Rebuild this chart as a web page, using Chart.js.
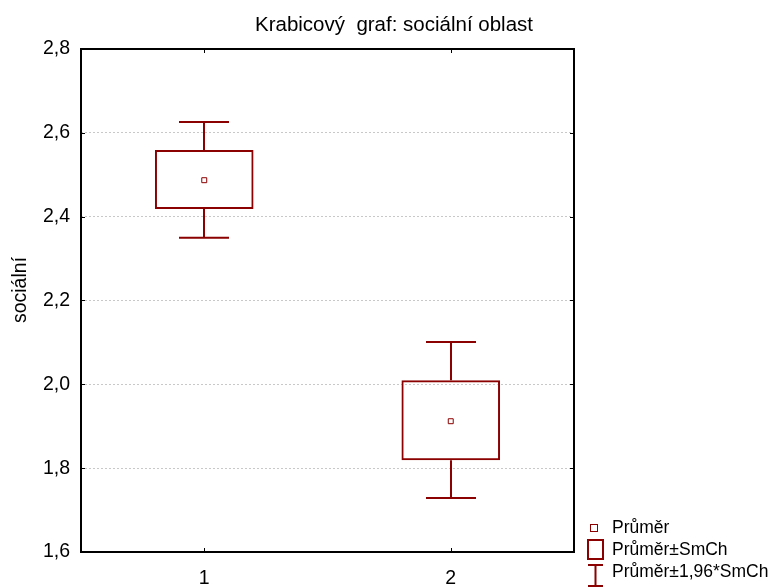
<!DOCTYPE html>
<html>
<head>
<meta charset="utf-8">
<script src="https://cdn.jsdelivr.net/npm/chart.js@4/dist/chart.umd.min.js"></script>
<style>
  html, body { margin: 0; padding: 0; background: #fff; }
  #wrap { width: 776px; height: 587px; }
</style>
</head>
<body>
<div id="wrap"><canvas id="box-chart" width="776" height="587"></canvas></div>
<script>
var groups = ['1', '2'];
var means = [2.487, 1.912];
var seLow = [2.418, 1.819];
var seHigh = [2.559, 2.010];
var ciLow = [2.350, 1.729];
var ciHigh = [2.626, 2.101];
var yTicks = [1.6, 1.8, 2.0, 2.2, 2.4, 2.6, 2.8];

var red = '#8b0000';
var font = 'Liberation Sans, Arial, sans-serif';

function fmt(v) {
  return v.toFixed(1).replace('.', ',');
}

// whiskers, frame, title and legend
var extras = {
  id: 'extras',
  afterDatasetsDraw: function (chart) {
    var ctx = chart.ctx;
    var x = chart.scales.x, y = chart.scales.y;
    var area = chart.chartArea;
    ctx.save();
    ctx.strokeStyle = red;
    ctx.lineWidth = 2;
    for (var i = 0; i < groups.length; i++) {
      var cx = Math.round(x.getPixelForValue(i));
      ctx.beginPath();
      ctx.moveTo(cx, y.getPixelForValue(seHigh[i]));
      ctx.lineTo(cx, y.getPixelForValue(ciHigh[i]));
      ctx.moveTo(cx - 25, y.getPixelForValue(ciHigh[i]));
      ctx.lineTo(cx + 25, y.getPixelForValue(ciHigh[i]));
      ctx.moveTo(cx, y.getPixelForValue(seLow[i]));
      ctx.lineTo(cx, y.getPixelForValue(ciLow[i]));
      ctx.moveTo(cx - 25, y.getPixelForValue(ciLow[i]));
      ctx.lineTo(cx + 25, y.getPixelForValue(ciLow[i]));
      ctx.stroke();
    }
    // frame
    ctx.strokeStyle = '#000';
    ctx.lineWidth = 2;
    ctx.strokeRect(area.left, area.top, area.right - area.left, area.bottom - area.top);
    ctx.beginPath();
    for (var j = 0; j < groups.length; j++) {
      var tx = Math.round(x.getPixelForValue(j)) + 0.5;
      ctx.moveTo(tx, area.top); ctx.lineTo(tx, area.top + 4);
      ctx.moveTo(tx, area.bottom); ctx.lineTo(tx, area.bottom - 4);
    }
    yTicks.forEach(function (v) {
      var ty = Math.round(y.getPixelForValue(v)) + 0.5;
      ctx.moveTo(area.left, ty); ctx.lineTo(area.left + 4, ty);
      ctx.moveTo(area.right, ty); ctx.lineTo(area.right - 4, ty);
    });
    ctx.lineWidth = 1;
    ctx.stroke();

    // title
    ctx.fillStyle = '#000';
    ctx.font = '20.5px ' + font;
    ctx.textAlign = 'center';
    ctx.textBaseline = 'alphabetic';
    ctx.fillText('Krabicový  graf: sociální oblast', 394, 31);

    // y axis title
    ctx.save();
    ctx.translate(26, 290);
    ctx.rotate(-Math.PI / 2);
    ctx.font = '19.5px ' + font;
    ctx.fillText('sociální', 0, 0);
    ctx.restore();

    // legend
    ctx.textAlign = 'left';
    ctx.font = '17.5px ' + font;
    ctx.strokeStyle = red;
    ctx.lineWidth = 1;
    ctx.strokeRect(590.5, 524.5, 7, 7);
    ctx.fillText('Průměr', 612, 533);
    ctx.lineWidth = 2;
    ctx.strokeRect(588, 540, 15, 19);
    ctx.fillText('Průměr±SmCh', 612, 555);
    ctx.beginPath();
    ctx.moveTo(588, 565); ctx.lineTo(603, 565);
    ctx.moveTo(595.5, 565); ctx.lineTo(595.5, 587);
    ctx.moveTo(588, 586); ctx.lineTo(603, 586);
    ctx.stroke();
    ctx.fillText('Průměr±1,96*SmCh', 612, 577);
    ctx.restore();
  }
};

var boxData = [];
for (var k = 0; k < groups.length; k++) {
  boxData.push([seLow[k], seHigh[k]]);
}

new Chart(document.getElementById('box-chart'), {
  type: 'bar',
  data: {
    labels: groups,
    datasets: [{
        type: 'scatter',
        label: 'Průměr',
        data: means.map(function (m, i) { return { x: i, y: m }; }),
        pointStyle: 'rect',
        pointRadius: 3.5,
        borderWidth: 1,
        borderColor: red,
        backgroundColor: '#fff'
      },
      {
        label: 'Průměr±SmCh',
        data: boxData,
        borderColor: red,
        borderWidth: 2,
        borderSkipped: false,
        backgroundColor: 'rgba(0,0,0,0)',
        barPercentage: 0.4,
        categoryPercentage: 1
      }
    ]
  },
  options: {
    responsive: false,
    animation: false,
    layout: { padding: { top: 49, right: 202, left: 0, bottom: 0 } },
    plugins: {
      legend: { display: false },
      title: { display: false },
      tooltip: { enabled: false }
    },
    scales: {
      x: {
        type: 'category',
        offset: true,
        grid: { display: false },
        border: { display: false },
        ticks: { color: '#000', font: { family: font, size: 19.5 }, padding: 7 },
        afterFit: function (s) { s.height = 35; }
      },
      y: {
        min: 1.6,
        max: 2.8,
        afterBuildTicks: function (s) {
          s.ticks = yTicks.map(function (v) { return { value: v }; });
        },
        grid: { color: '#c8c8c8', drawTicks: false },
        border: { display: false, dash: [2, 2] },
        ticks: {
          color: '#000',
          font: { family: font, size: 19.5 },
          padding: 11,
          callback: function (v) { return fmt(v); }
        },
        afterFit: function (s) { s.width = 81; }
      }
    }
  },
  plugins: [extras]
});
</script>
</body>
</html>
